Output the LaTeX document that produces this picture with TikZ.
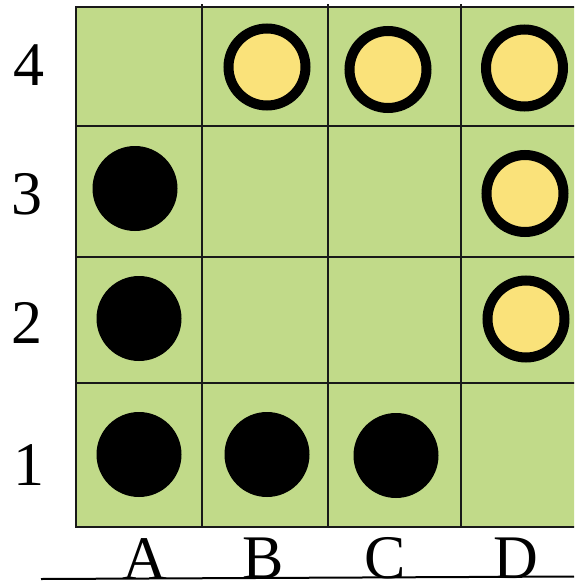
\documentclass[tikz,border=0pt]{standalone}
\usepackage{fontspec}
\setmainfont{Liberation Serif}
\definecolor{board}{RGB}{193,218,137}
\definecolor{stoneY}{RGB}{250,226,122}
\definecolor{gridline}{RGB}{25,25,25}
\begin{document}
\begin{tikzpicture}[x=1pt,y=-1pt,
  gl/.style={draw=gridline,line width=2pt},
  ystone/.style={circle,draw=black,fill=stoneY,line width=10pt,minimum size=77pt,inner sep=0pt},
  bstone/.style={circle,fill=black,minimum size=85pt,inner sep=0pt},
  lab/.style={font=\fontsize{62pt}{62pt}\selectfont,anchor=base,inner sep=0pt}]
\useasboundingbox (0,0) rectangle (574,582);
\clip (0,0) rectangle (574,582);
% board
\fill[board] (75.5,7) rectangle (580,526.5);
\draw[gl] (580,7) -- (75.5,7) -- (75.5,526.5) -- (580,526.5);
\foreach \y in {125.5,256.5,383} \draw[gl] (75.5,\y) -- (580,\y);
\foreach \x in {201.5,327.5,460.5} \draw[gl] (\x,4) -- (\x,526.5);
% yellow stones
\node[ystone] (b4) at (267,67) {};
\node[ystone] (c4) at (388,69.5) {};
\node[ystone] (d4) at (524.5,68) {};
\node[ystone] (d3) at (525,193.5) {};
\node[ystone] (d2) at (526,319) {};
% black stones
\node[bstone] (a3) at (135,188.5) {};
\node[bstone] (a2) at (139,318.5) {};
\node[bstone] (a1) at (139,454.5) {};
\node[bstone] (b1) at (267,454.5) {};
\node[bstone] (c1) at (396,455.5) {};
% row labels
\node[lab] (r4) at (29,85) {4};
\node[lab] (r3) at (27,214) {3};
\node[lab] (r2) at (27,343) {2};
\node[lab] (r1) at (29,485) {1};
% column labels
\node[lab] (cA) at (144.5,579) {A};
\node[lab] (cB) at (263,578) {B};
\node[lab] (cC) at (385,578) {C};
\node[lab] (cD) at (516,578) {D};
% base line
\coordinate (bl) at (41,579);
\coordinate (br) at (574,576.5);
\draw[line width=2pt,black] (bl) -- (br);
\end{tikzpicture}
\end{document}
